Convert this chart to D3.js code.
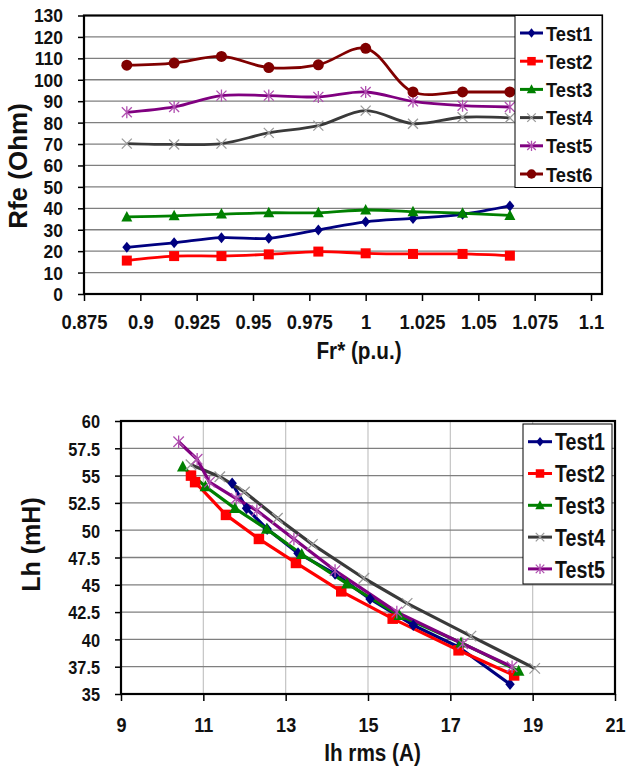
<!DOCTYPE html>
<html><head><meta charset="utf-8">
<script src="https://cdn.jsdelivr.net/npm/d3@7"></script>
<style>
body{margin:0;background:#fff}
svg{display:block;background:#fff}
text{font-family:Arial,"Liberation Sans",sans-serif;font-weight:bold;fill:#111}
</style>
</head><body>
<svg id="c" width="626" height="769"></svg>
<script>
// ---------- Top chart data: Rfe vs Fr* ----------
const frX = [0.894, 0.915, 0.936, 0.957, 0.979, 1.0, 1.021, 1.043, 1.064];
const rfeTest1 = [21.8, 23.9, 26.3, 26.0, 29.9, 33.7, 35.3, 37.2, 41.1];
const rfeTest2 = [15.6, 17.7, 17.7, 18.5, 19.8, 19.0, 18.7, 18.7, 17.9];
const rfeTest3 = [36.0, 36.5, 37.3, 37.9, 37.9, 39.2, 38.4, 37.7, 36.7];
const rfeTest4 = [70.2, 69.8, 70.2, 75.2, 78.6, 85.6, 79.5, 82.5, 82.2];
const rfeTest5 = [84.8, 87.3, 92.6, 92.6, 92.0, 94.3, 89.9, 87.9, 87.3];
const rfeTest6 = [106.8, 107.8, 110.9, 105.7, 107.0, 114.7, 94.3, 94.3, 94.3];
const rfeXTicks = [0.875, 0.9, 0.925, 0.95, 0.975, 1, 1.025, 1.05, 1.075, 1.1];
const rfeYTicks = [0, 10, 20, 30, 40, 50, 60, 70, 80, 90, 100, 110, 120, 130];

// ---------- Bottom chart data: Lh vs Ih rms ----------
const lhTest1X = [11.7, 12.05, 12.55, 13.3, 14.2, 15.05, 16.1, 17.2, 18.45];
const lhTest1Y = [54.3, 52.0, 50.1, 47.9, 46.0, 43.7, 41.3, 39.3, 35.9];
const lhTest2X = [10.7, 10.8, 11.55, 12.35, 13.25, 14.35, 15.6, 17.2, 18.55];
const lhTest2Y = [55.0, 54.4, 51.4, 49.2, 47.0, 44.4, 41.9, 39.0, 36.7];
const lhTest3X = [10.5, 11.05, 11.77, 12.54, 13.39, 14.49, 15.76, 17.26, 18.66];
const lhTest3Y = [55.8, 54.0, 52.0, 50.1, 47.8, 45.1, 42.2, 39.7, 37.1];
const lhTest4X = [10.7, 11.4, 12.0, 12.8, 13.65, 14.9, 15.95, 17.5, 19.05];
const lhTest4Y = [56.0, 54.9, 53.5, 51.1, 48.7, 45.6, 43.3, 40.3, 37.35];
const lhTest5X = [10.4, 10.85, 11.15, 11.8, 12.3, 13.2, 14.2, 15.7, 17.3, 18.5];
const lhTest5Y = [58.1, 56.5, 54.4, 52.9, 51.8, 49.2, 46.3, 42.5, 39.6, 37.5];
const lhXTicks = [9, 11, 13, 15, 17, 19, 21];
const lhYTicks = [35, 37.5, 40, 42.5, 45, 47.5, 50, 52.5, 55, 57.5, 60];

const seriesNames = ["Test1", "Test2", "Test3", "Test4", "Test5", "Test6"];
const seriesColors = ["#000080", "#ff0000", "#008000", "#3a3a3a", "#800080", "#800000"];
const markerColors = ["#000080", "#ff0000", "#008000", "#9a9a9a", "#b050b0", "#800000"];
const seriesMarkers = ["diamond", "square", "triangle", "times", "star", "circle"];

const svg = d3.select("#c");

function marker(g, type, cx, cy, color, k) {
  k = k || 1;
  if (type === "diamond") {
    g.append("path").attr("d", `M${cx},${cy-5.5*k}L${cx+4.5*k},${cy}L${cx},${cy+5.5*k}L${cx-4.5*k},${cy}Z`).attr("fill", color);
  } else if (type === "square") {
    g.append("rect").attr("x", cx-5*k).attr("y", cy-5*k).attr("width", 10*k).attr("height", 10*k).attr("fill", color);
  } else if (type === "triangle") {
    g.append("path").attr("d", `M${cx},${cy-6*k}L${cx+5.5*k},${cy+4.5*k}L${cx-5.5*k},${cy+4.5*k}Z`).attr("fill", color);
  } else if (type === "times") {
    const s = 5*k;
    g.append("path").attr("d", `M${cx-s},${cy-s}L${cx+s},${cy+s}M${cx-s},${cy+s}L${cx+s},${cy-s}`).attr("stroke", color).attr("stroke-width", 1.3).attr("fill", "none");
  } else if (type === "star") {
    const s = 5*k;
    g.append("path").attr("d", `M${cx-s},${cy-s}L${cx+s},${cy+s}M${cx-s},${cy+s}L${cx+s},${cy-s}M${cx},${cy-s*1.2}L${cx},${cy+s*1.2}`).attr("stroke", color).attr("stroke-width", 1.3).attr("fill", "none");
  } else if (type === "circle") {
    g.append("circle").attr("cx", cx).attr("cy", cy).attr("r", 5.5*k).attr("fill", color);
  }
}

function condText(g, x, y, str, size, sx, anchor, rot) {
  const t = g.append("text")
    .attr("transform", `translate(${x},${y})${rot ? ` rotate(${rot})` : ""} scale(${sx},1)`)
    .attr("font-size", size)
    .attr("text-anchor", anchor || "start")
    .text(str);
  return t;
}

function drawChart(o) {
  const g = svg.append("g");
  const x = d3.scaleLinear().domain(o.xDomain).range([o.left, o.xEnd]);
  const y = d3.scaleLinear().domain(o.yDomain).range([o.bottom, o.top]);
  if (o.vGrid) {
    g.selectAll(null).data(o.xTicks.slice(1, -1)).enter().append("line")
      .attr("x1", d => x(d)).attr("x2", d => x(d)).attr("y1", o.top).attr("y2", o.bottom)
      .attr("stroke", "#c4c4c4").attr("stroke-width", 1.2);
  }
  g.selectAll(null).data(o.yTicks.slice(1, -1)).enter().append("line")
    .attr("x1", o.left).attr("x2", o.right).attr("y1", d => y(d)).attr("y2", d => y(d))
    .attr("stroke", "#7f7f7f").attr("stroke-width", 1.3);

  const ax = g.append("g").attr("transform", `translate(0,${o.bottom})`)
    .call(d3.axisBottom(x).tickValues(o.xTicks).tickSize(7).tickFormat(d => String(d)));
  ax.select(".domain").remove();
  ax.selectAll(".tick line").attr("stroke", "#000").attr("stroke-width", 1.5);
  ax.selectAll(".tick text").attr("font-size", o.xFont).attr("fill", "#111")
    .attr("font-family", null).attr("y", o.xLabelY).attr("dy", 0)
    .attr("transform", `scale(${o.sx},1)`);

  const ay = g.append("g").attr("transform", `translate(${o.left},0)`)
    .call(d3.axisLeft(y).tickValues(o.yTicks).tickSize(6).tickFormat(d => String(d)));
  ay.select(".domain").remove();
  ay.selectAll(".tick line").attr("stroke", "#000").attr("stroke-width", 1.5);
  ay.selectAll(".tick text").attr("font-size", o.yFont).attr("fill", "#111")
    .attr("font-family", null).attr("x", -o.yLabelGap / o.syy).attr("dy", "0.36em")
    .attr("transform", `scale(${o.syy},1)`);

  g.append("rect").attr("x", o.left).attr("y", o.top).attr("width", o.right - o.left).attr("height", o.bottom - o.top)
    .attr("fill", "none").attr("stroke", "#000").attr("stroke-width", 2.2);

  const line = d3.line().x(d => x(d[0])).y(d => y(d[1])).curve(o.curve);
  o.series.forEach((s, i) => {
    const pts = s.xs.map((v, j) => [v, s.ys[j]]);
    g.append("path").attr("d", line(pts)).attr("fill", "none")
      .attr("stroke", seriesColors[i]).attr("stroke-width", o.lw).attr("stroke-linejoin", "round");
  });
  o.series.forEach((s, i) => {
    const mg = g.append("g");
    s.xs.forEach((v, j) => marker(mg, seriesMarkers[i], x(v), y(s.ys[j]), markerColors[i], o.mk));
  });

  const L = o.legend;
  const lg = g.append("g");
  lg.append("rect").attr("x", L.x).attr("y", L.y).attr("width", L.w).attr("height", L.h)
    .attr("fill", "#fff").attr("stroke", "#000").attr("stroke-width", 1);
  o.series.forEach((s, i) => {
    const cy = L.first + i * L.step;
    lg.append("line").attr("x1", L.x + 5).attr("x2", L.x + 5 + L.lineW).attr("y1", cy).attr("y2", cy)
      .attr("stroke", seriesColors[i]).attr("stroke-width", 3);
    marker(lg, seriesMarkers[i], L.x + 5 + L.lineW / 2, cy, markerColors[i], 0.85);
    condText(lg, L.x + L.lineW + 8, cy + L.font * 0.36, seriesNames[i], L.font, L.sx, "start");
  });

  condText(g, o.xTitle.x, o.xTitle.y, o.xTitle.text, o.xTitle.size, o.xTitle.sx, "middle");
  condText(g, o.yTitle.x, o.yTitle.y, o.yTitle.text, o.yTitle.size, 1, "middle", -90);
}

drawChart({
  xDomain: [0.875, 1.1], yDomain: [0, 130],
  left: 84, xEnd: 591, right: 602, top: 15.5, bottom: 294,
  xTicks: rfeXTicks, yTicks: rfeYTicks,
  xFont: 20, yFont: 18, sx: 0.92, syy: 0.97, xLabelY: 35, yLabelGap: 21,
  vGrid: false, mk: 1, lw: 2.8,
  curve: d3.curveCatmullRom.alpha(0.5),
  series: [
    {xs: frX, ys: rfeTest1}, {xs: frX, ys: rfeTest2}, {xs: frX, ys: rfeTest3},
    {xs: frX, ys: rfeTest4}, {xs: frX, ys: rfeTest5}, {xs: frX, ys: rfeTest6}
  ],
  legend: {x: 515, y: 15.5, w: 87, h: 172, first: 33, step: 28.2, lineW: 23, font: 21, sx: 0.87},
  xTitle: {x: 359, y: 359, text: "Fr* (p.u.)", size: 23, sx: 0.9},
  yTitle: {x: 27, y: 166, text: "Rfe (Ohm)", size: 26}
});

drawChart({
  xDomain: [9, 21], yDomain: [35, 60],
  left: 121, xEnd: 615, right: 615, top: 421, bottom: 694,
  xTicks: lhXTicks, yTicks: lhYTicks,
  xFont: 21, yFont: 19, sx: 0.86, syy: 0.86, xLabelY: 38, yLabelGap: 21,
  vGrid: true, mk: 1.05, lw: 3.2,
  curve: d3.curveLinear,
  series: [
    {xs: lhTest1X, ys: lhTest1Y}, {xs: lhTest2X, ys: lhTest2Y}, {xs: lhTest3X, ys: lhTest3Y},
    {xs: lhTest4X, ys: lhTest4Y}, {xs: lhTest5X, ys: lhTest5Y}
  ],
  legend: {x: 523, y: 424, w: 89, h: 160, first: 441.7, step: 31.8, lineW: 24, font: 24, sx: 0.82},
  xTitle: {x: 372.5, y: 761, text: "Ih rms (A)", size: 23, sx: 0.9},
  yTitle: {x: 40, y: 544.5, text: "Lh (mH)", size: 25}
});
</script>
</body></html>
